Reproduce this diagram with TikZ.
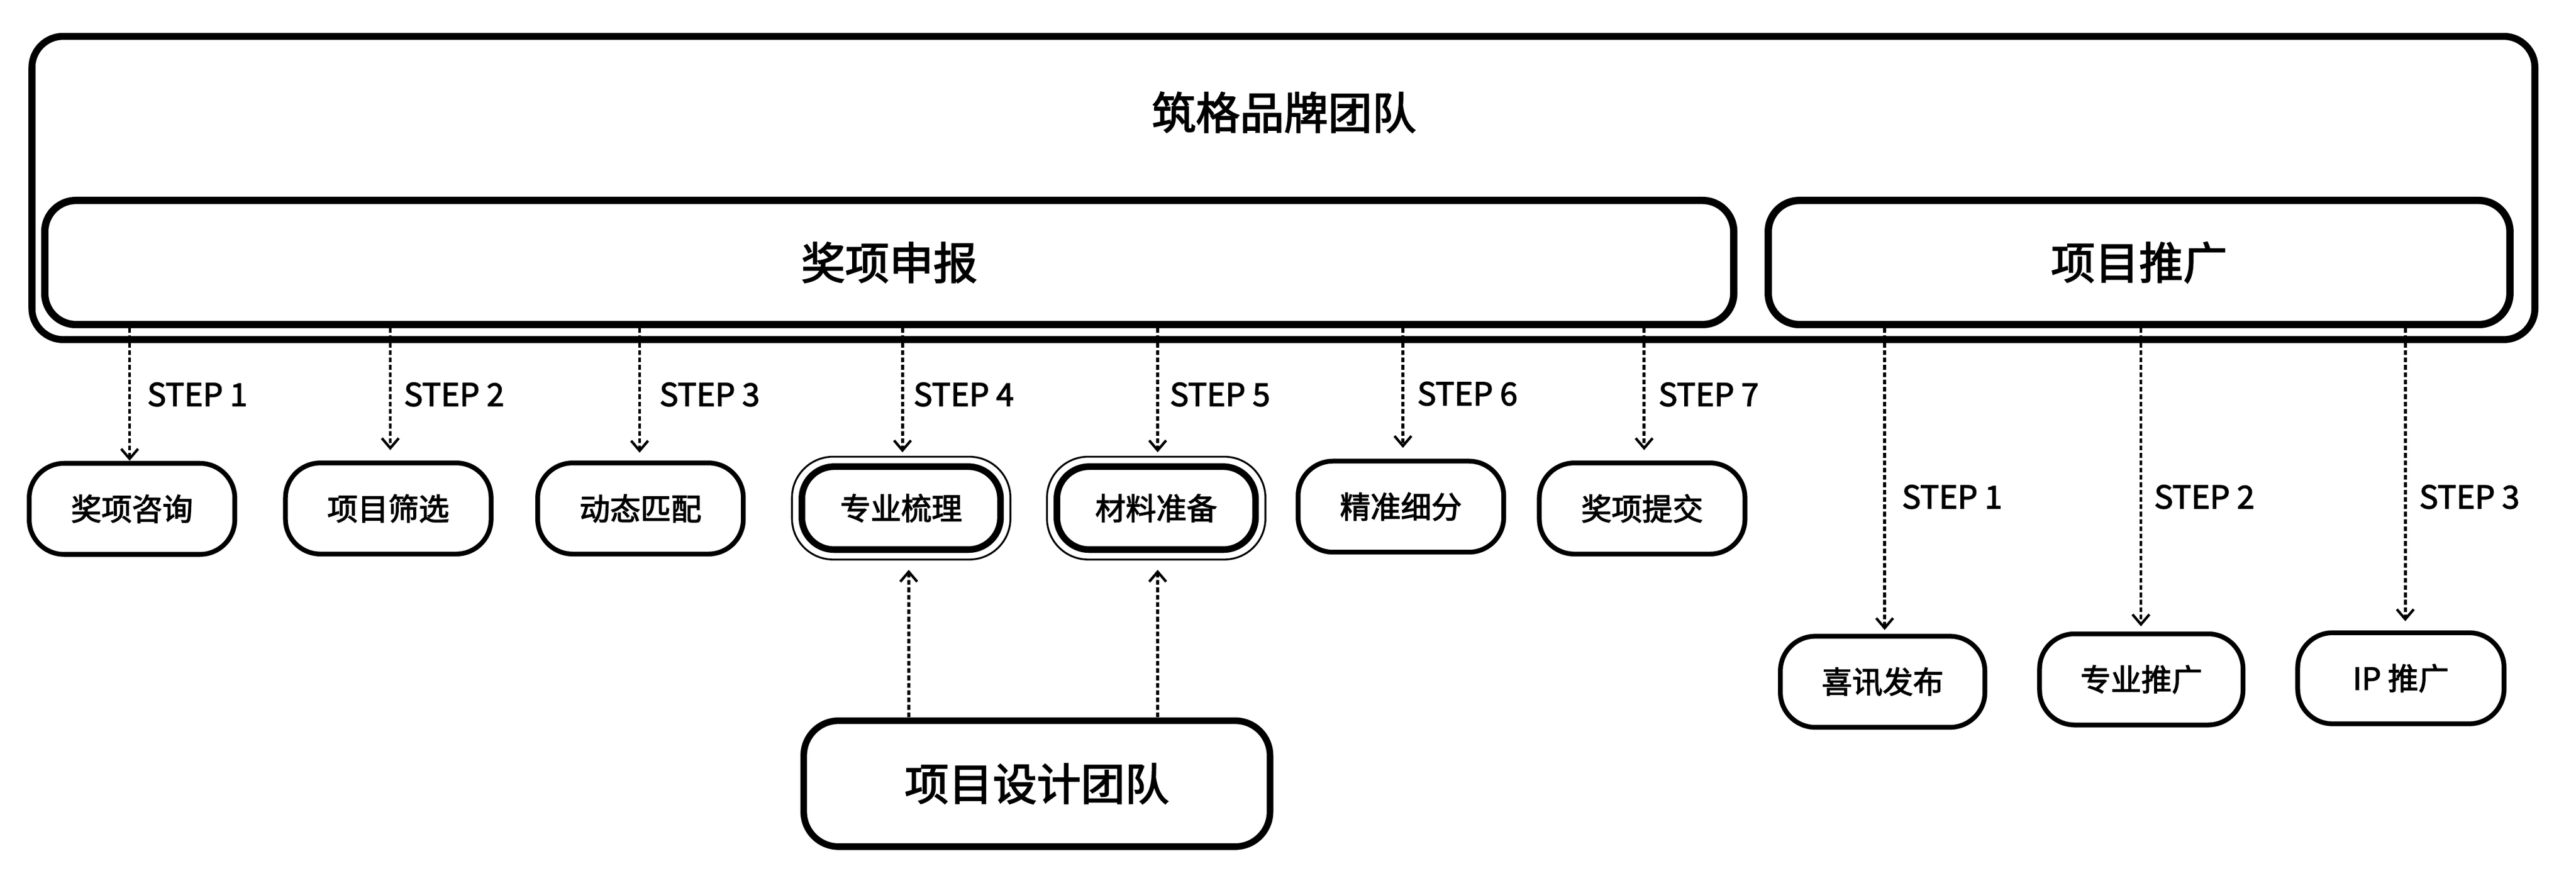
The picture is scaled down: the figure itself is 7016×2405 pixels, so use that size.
\documentclass[tikz,border=0pt]{standalone}
\usepackage{fontspec}
\setmainfont{Noto Sans CJK SC}[FakeBold=2.5]
\usetikzlibrary{arrows.meta,calc}
\begin{document}
\begin{tikzpicture}[x=1pt,y=-1pt,
  bigbox/.style={draw, line width=19pt, rounded corners=85pt, inner sep=0pt, outer sep=0pt,
    minimum height=338pt, font=\fontsize{120}{130}\selectfont},
  smallbox/.style={draw, line width=13pt, rounded corners=95pt, inner sep=0pt, outer sep=0pt,
    minimum width=560pt, minimum height=248pt, font=\fontsize{83}{90}\selectfont},
  keybox/.style={smallbox, line width=18pt, rounded corners=88pt, minimum width=541pt, minimum height=226pt},
  thinring/.style={line width=5pt, rounded corners=112pt},
  steplbl/.style={anchor=base west, inner sep=0pt, font=\fontsize{86}{90}\selectfont},
  titletext/.style={inner sep=0pt, font=\fontsize{120}{130}\selectfont},
  arr/.style={line width=8pt, dash pattern=on 13pt off 7pt, shorten <=10pt,
    -{Straight Barb[length=27pt,width=46pt,line width=7pt]}}
]
\useasboundingbox (0,0) rectangle (7016,2405);
\fill[white] (0,0) rectangle (7016,2405);

% outer team box
\node[bigbox, minimum width=6817pt, minimum height=826pt] (team) at (3495.5,512) {};
\node[titletext] (teamtitle) at (3497,306) {筑格品牌团队};

% two groups
\node[bigbox, line width=20pt, minimum width=4600pt] (awd) at (2422,715) {奖项申报};
\node[bigbox, line width=20pt, minimum width=2020pt] (pro) at (5826,715) {项目推广};

% design team
\node[bigbox, line width=18pt, rounded corners=95pt, minimum width=1270pt, minimum height=343pt] (des) at (2824,2134.5) {项目设计团队};

% award steps
\node[smallbox] (b1) at (359.5,1386) {奖项咨询};
\node[smallbox] (b2) at (1057.5,1385) {项目筛选};
\node[smallbox] (b3) at (1744.5,1385) {动态匹配};
\node[keybox] (b4) at (2454.5,1384) {专业梳理};
\node[keybox] (b5) at (3149,1384) {材料准备};
\node[smallbox] (b6) at (3815.5,1380) {精准细分};
\node[smallbox] (b7) at (4472.5,1385) {奖项提交};
\draw[thinring] ($(b4.north west)+(-27,-27)$) rectangle ($(b4.south east)+(27,27)$);
\draw[thinring] ($(b5.north west)+(-27,-27)$) rectangle ($(b5.south east)+(27,27)$);

% promotion steps
\node[smallbox, minimum width=557pt] (r1) at (5127.5,1857) {喜讯发布};
\node[smallbox, minimum width=554pt] (r2) at (5832,1850.5) {专业推广};
\node[smallbox, minimum width=562pt] (r3) at (6539,1847.5) {IP 推广};

% arrow tips
\coordinate (t1) at (353,1255);
\coordinate (t2) at (1063,1226);
\coordinate (t3) at (1742,1233);
\coordinate (t4) at (2458,1232);
\coordinate (t5) at (3153,1232);
\coordinate (t6) at (3821,1220);
\coordinate (t7) at (4478,1226);
\coordinate (q1) at (5133,1716);
\coordinate (q2) at (5831,1706);
\coordinate (q3) at (6551,1692);
\coordinate (u4) at (2475,1552);
\coordinate (u5) at (3153,1552);

\foreach \t in {t1,t2,t3,t4,t5,t6,t7}{
  \draw[arr] (awd.south -| \t) -- (\t);
}
\foreach \t in {q1,q2,q3}{
  \draw[arr] (pro.south -| \t) -- (\t);
}
\draw[arr] (des.north -| u4) -- (u4);
\draw[arr] (des.north -| u5) -- (u5);

% step labels
\node[steplbl] (s1) at (401,1106) {STEP 1};
\node[steplbl] (s2) at (1100,1106) {STEP 2};
\node[steplbl] (s3) at (1796,1106) {STEP 3};
\node[steplbl] (s4) at (2488,1106) {STEP 4};
\node[steplbl] (s5) at (3186,1106) {STEP 5};
\node[steplbl] (s6) at (3860,1104) {STEP 6};
\node[steplbl] (s7) at (4517,1106) {STEP 7};
\node[steplbl] (p1) at (5180,1385) {STEP 1};
\node[steplbl] (p2) at (5867,1385) {STEP 2};
\node[steplbl] (p3) at (6589,1385) {STEP 3};
\end{tikzpicture}
\end{document}
